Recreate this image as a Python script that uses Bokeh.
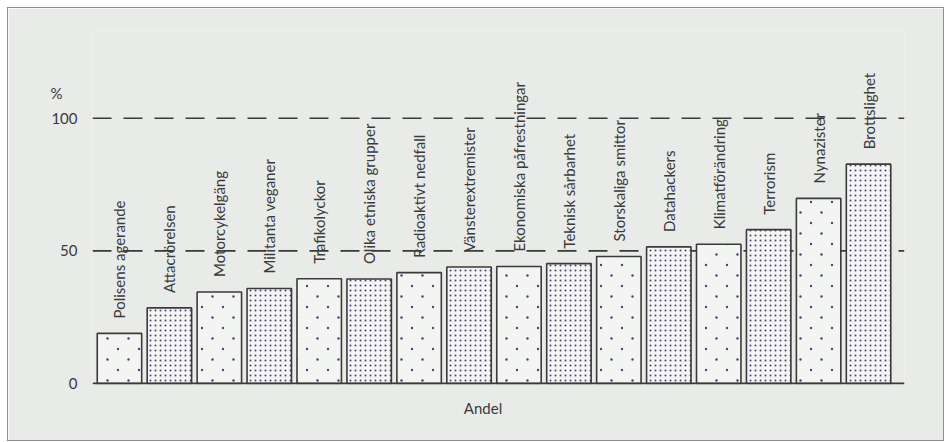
import math
import base64
from bokeh.plotting import figure
from bokeh.models import (ColumnDataSource, Range1d, FixedTicker, Span, LabelSet,
                          ImageURLTexture, LinearAxis)
from bokeh.core.properties import value
from bokeh.embed import file_html
from bokeh.resources import INLINE

categories = ["Polisens agerande", "Attacrörelsen", "Motorcykelgäng", "Militanta veganer",
              "Trafikolyckor", "Olika etniska grupper", "Radioaktivt nedfall",
              "Vänsterextremister", "Ekonomiska påfrestningar", "Teknisk sårbarhet",
              "Storskaliga smittor", "Datahackers", "Klimatförändring", "Terrorism",
              "Nynazister", "Brottslighet"]
values = [18.9, 28.5, 34.5, 35.8, 39.5, 39.4, 41.8, 43.9, 44.1, 45.2, 47.9,
          51.5, 52.5, 58.0, 69.8, 82.7]
y_ticks = [0, 50, 100]
unit_label = "%"
unit_label_pos = 109.4
x_title = "Andel"
x_title_pos = 7.28
reference_lines = [50, 100]

BG = "#e9ebe8"
INK = "#3a3a3a"
DOT = "#553a7a"
FONT = "Lato"

xs = list(range(len(categories)))
sparse = ColumnDataSource(dict(x=xs[0::2], v=values[0::2]))
dense = ColumnDataSource(dict(x=xs[1::2], v=values[1::2]))
labels_src = ColumnDataSource(dict(x=xs, v=values, cat=categories))


def tile(size, dots, r):
    circles = "".join(f'<circle cx="{cx}" cy="{cy}" r="{r}" fill="{DOT}"/>' for cx, cy in dots)
    svg = (f'<svg xmlns="http://www.w3.org/2000/svg" width="{size}" height="{size}" '
           f'viewBox="0 0 {size} {size}">{circles}</svg>')
    return "data:image/svg+xml;base64," + base64.b64encode(svg.encode()).decode()


sparse_tex = ImageURLTexture(url=tile(21, [(5, 5), (15.5, 15.5)], 1.2))
dense_tex = ImageURLTexture(url=tile(10, [(2.5, 2.5), (7.5, 2.5), (2.5, 7.5), (7.5, 7.5)], 1.0))

p = figure(width=937, height=434, output_backend="svg", toolbar_location=None,
           x_range=Range1d(-0.54, 15.72), y_range=Range1d(-0.38, 133.1),
           min_border_left=84, min_border_right=41, min_border_top=22, min_border_bottom=58)
p.styles = {"border": "1.5px solid #8e8f8e", "margin-left": "7px", "margin-top": "7px"}
p.background_fill_color = BG
p.border_fill_color = BG
p.outline_line_color = None
p.grid.visible = False

for loc in reference_lines:
    p.add_layout(Span(location=loc, dimension="width", line_color=INK, line_width=1.6,
                      line_dash="19 12", level="underlay"))

common = dict(width=0.89, bottom=0, top="v", fill_color="#f3f5f2", line_color=INK,
              line_width=1.6, hatch_color=DOT)
p.vbar(x="x", source=sparse, hatch_pattern=value("sparse"), hatch_extra={"sparse": sparse_tex},
       **common)
p.vbar(x="x", source=dense, hatch_pattern=value("dense"), hatch_extra={"dense": dense_tex},
       **common)

p.add_layout(Span(location=0, dimension="width", line_color=INK, line_width=1.8))

p.add_layout(LabelSet(x="x", y="v", text="cat", source=labels_src, angle=math.pi / 2,
                      text_align="left", text_baseline="middle", y_offset=15,
                      text_font=value(FONT), text_font_size="15px", text_color=INK))


def style_axis(ax):
    ax.axis_line_color = None
    ax.major_tick_line_color = None
    ax.minor_tick_line_color = None
    ax.major_label_text_font = FONT
    ax.major_label_text_font_size = "15px"
    ax.major_label_text_color = INK


p.yaxis.ticker = FixedTicker(ticks=y_ticks)
style_axis(p.yaxis[0])
p.yaxis.major_label_standoff = 9

unit_axis = LinearAxis(ticker=FixedTicker(ticks=[unit_label_pos]),
                       major_label_overrides={unit_label_pos: unit_label})
style_axis(unit_axis)
unit_axis.major_label_text_align = "left"
unit_axis.major_label_standoff = -20
p.add_layout(unit_axis, "left")

p.xaxis.ticker = FixedTicker(ticks=[x_title_pos])
p.xaxis.major_label_overrides = {x_title_pos: x_title}
style_axis(p.xaxis[0])
p.xaxis.major_label_standoff = 8

open("out.html", "w").write(file_html(p, INLINE))
